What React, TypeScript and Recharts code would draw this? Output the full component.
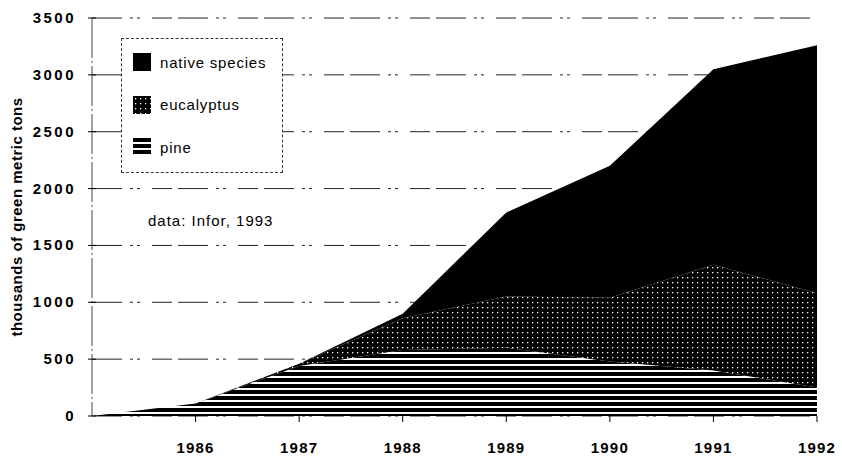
import { AreaChart, Area, XAxis, YAxis, CartesianGrid } from 'recharts';

const YEARS = [1985, 1986, 1987, 1988, 1989, 1990, 1991, 1992];
const PINE = [0, 110, 440, 580, 600, 480, 400, 250];
const EUCALYPTUS = [0, 0, 20, 280, 450, 560, 930, 830];
const NATIVE = [0, 0, 0, 40, 740, 1160, 1720, 2180];

const X_TICKS = [1986, 1987, 1988, 1989, 1990, 1991, 1992];
const Y_TICKS = [0, 500, 1000, 1500, 2000, 2500, 3000, 3500];

const LEGEND_ITEMS = [
  { label: 'native species', fill: '#000' },
  { label: 'eucalyptus', fill: 'url(#eucDots)' },
  { label: 'pine', fill: 'url(#pineStripes)' },
];

const data = YEARS.map((year, i) => ({
  year,
  pine: PINE[i],
  eucalyptus: EUCALYPTUS[i],
  native: NATIVE[i],
}));

const FONT = '"Liberation Sans", Arial, Helvetica, sans-serif';

function YTick(props: any) {
  const { x, y, payload } = props;
  const ax = x + 16;
  return (
    <g>
      <line x1={ax - 4} x2={ax + 4} y1={y} y2={y} stroke="#000" strokeWidth={1} />
      <text
        x={x}
        y={y}
        dy={5}
        textAnchor="end"
        fontFamily={FONT}
        fontSize={15}
        fontWeight="bold"
        letterSpacing={2.5}
        fill="#000"
      >
        {payload.value}
      </text>
    </g>
  );
}

export default function App() {
  return (
    <div style={{ position: 'absolute', left: 0, top: 0, width: 842, height: 456, background: '#fff' }}>
      <AreaChart
        width={842}
        height={456}
        data={data}
        margin={{ top: 18, right: 25, left: 0, bottom: 0 }}
      >
        <defs>
          <pattern id="pineStripes" width="6" height="6" patternUnits="userSpaceOnUse">
            <rect width="6" height="6" fill="#000" />
            <rect y="4" width="6" height="2" fill="#fff" />
          </pattern>
          <pattern id="eucDots" width="5" height="5" patternUnits="userSpaceOnUse">
            <rect width="5" height="5" fill="#000" />
            <rect x="2" y="2" width="1.3" height="1.3" fill="#fff" />
          </pattern>
        </defs>
        <CartesianGrid
          vertical={false}
          stroke="#222"
          strokeDasharray="30 8 3 4 3 12 20 6"
        />
        <XAxis
          dataKey="year"
          type="number"
          domain={[1985, 1992]}
          ticks={X_TICKS}
          axisLine={false}
          tickSize={6}
          tickMargin={20}
          tickLine={{ stroke: '#000' }}
          height={40}
          tick={{ fontFamily: FONT, fontSize: 15, fontWeight: 'bold', fill: '#000', letterSpacing: 1.2 }}
        />
        <YAxis
          type="number"
          domain={[0, 3500]}
          ticks={Y_TICKS}
          width={92}
          tickSize={4}
          tickMargin={12}
          tickLine={false}
          axisLine={{ stroke: '#444', strokeDasharray: '40 3 2 3' }}
          tick={<YTick />}
          label={{
            value: 'thousands of green metric tons',
            angle: -90,
            position: 'insideLeft',
            offset: 17,
            style: {
              textAnchor: 'middle',
              fontFamily: FONT,
              fontSize: 15,
              fontWeight: 'bold',
              fill: '#000',
              letterSpacing: 0.5,
            },
          }}
        />
        <Area
          type="linear"
          dataKey="pine"
          stackId="1"
          stroke="none"
          fill="url(#pineStripes)"
          fillOpacity={1}
          isAnimationActive={false}
        />
        <Area
          type="linear"
          dataKey="eucalyptus"
          stackId="1"
          stroke="none"
          fill="url(#eucDots)"
          fillOpacity={1}
          isAnimationActive={false}
        />
        <Area
          type="linear"
          dataKey="native"
          stackId="1"
          stroke="none"
          fill="#000"
          fillOpacity={1}
          isAnimationActive={false}
        />
      </AreaChart>

      <div
        style={{
          position: 'absolute',
          left: 121,
          top: 38,
          width: 160,
          height: 133,
          border: '1px dashed #333',
          background: '#fff',
          fontFamily: FONT,
          fontSize: 15,
          letterSpacing: 0.8,
          color: '#000',
        }}
      >
        {LEGEND_ITEMS.map((item, i) => (
          <div
            key={item.label}
            style={{ position: 'absolute', left: 11, top: 14 + i * 42.5, display: 'flex', alignItems: 'center' }}
          >
            <svg width={18} height={18} style={{ display: 'block' }}>
              <rect width={18} height={18} fill={item.fill} />
            </svg>
            <span style={{ marginLeft: 9 }}>{item.label}</span>
          </div>
        ))}
      </div>

      <div
        style={{
          position: 'absolute',
          left: 148,
          top: 212,
          fontFamily: FONT,
          fontSize: 15,
          letterSpacing: 1,
          color: '#000',
          whiteSpace: 'pre',
        }}
      >
        data: Infor, 1993
      </div>
    </div>
  );
}
